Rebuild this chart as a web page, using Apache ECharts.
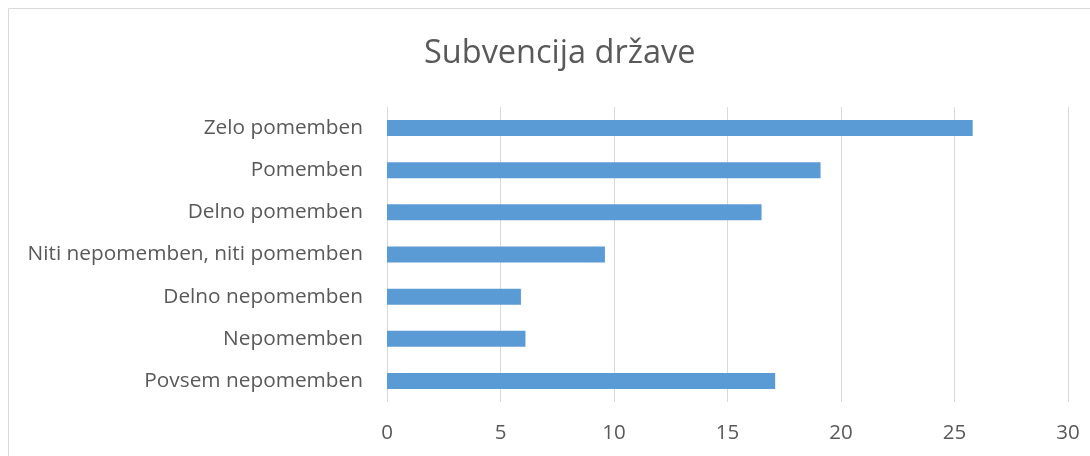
<!DOCTYPE html>
<html>
<head>
<meta charset="utf-8">
<script src="https://cdn.jsdelivr.net/npm/echarts@6/dist/echarts.min.js"></script>
<style>
  html, body { margin: 0; padding: 0; background: #fff; }
  #main { width: 1090px; height: 456px; }
</style>
</head>
<body>
<div id="main"></div>
<script>
// categories from bottom to top (ECharts category axis draws first item at bottom)
const categories = [
  'Povsem nepomemben',
  'Nepomemben',
  'Delno nepomemben',
  'Niti nepomemben, niti pomemben',
  'Delno pomemben',
  'Pomemben',
  'Zelo pomemben'
]
const values = [17.1, 6.1, 5.9, 9.6, 16.5, 19.1, 25.8]
const xTicks = [0, 30, 5]  // min, max, interval

const textColor = '#595959'
const fontFamily = '"Open Sans", "Noto Sans", sans-serif'

const option = {
  animation: false,
  title: {
    text: 'Subvencija države',
    left: 419,
    top: 32,
    textStyle: {
      fontFamily: fontFamily,
      fontSize: 32.5,
      fontWeight: 'normal',
      color: textColor
    }
  },
  graphic: [
    {
      type: 'rect',
      shape: { x: 8.5, y: 8.5, width: 1100, height: 460 },
      style: { fill: 'none', stroke: '#d9d9d9', lineWidth: 1 },
      silent: true
    }
  ],
  grid: {
    left: 387,
    right: 22,
    top: 107,
    bottom: 54
  },
  xAxis: {
    type: 'value',
    min: xTicks[0],
    max: xTicks[1],
    interval: xTicks[2],
    axisLine: { show: false },
    axisTick: { show: false },
    axisLabel: {
      color: textColor,
      fontFamily: fontFamily,
      fontSize: 20.5,
      margin: 21
    },
    splitLine: {
      lineStyle: { color: '#d9d9d9', width: 1 }
    }
  },
  yAxis: {
    type: 'category',
    data: categories,
    axisLine: { show: false },
    axisTick: { show: false },
    axisLabel: {
      color: textColor,
      fontFamily: fontFamily,
      fontSize: 20.8,
      margin: 24
    }
  },
  series: [
    {
      type: 'bar',
      data: values,
      barWidth: 16,
      itemStyle: { color: '#5b9bd5' }
    }
  ]
}

const chart = echarts.init(document.getElementById('main'))
chart.setOption(option)
</script>
</body>
</html>
